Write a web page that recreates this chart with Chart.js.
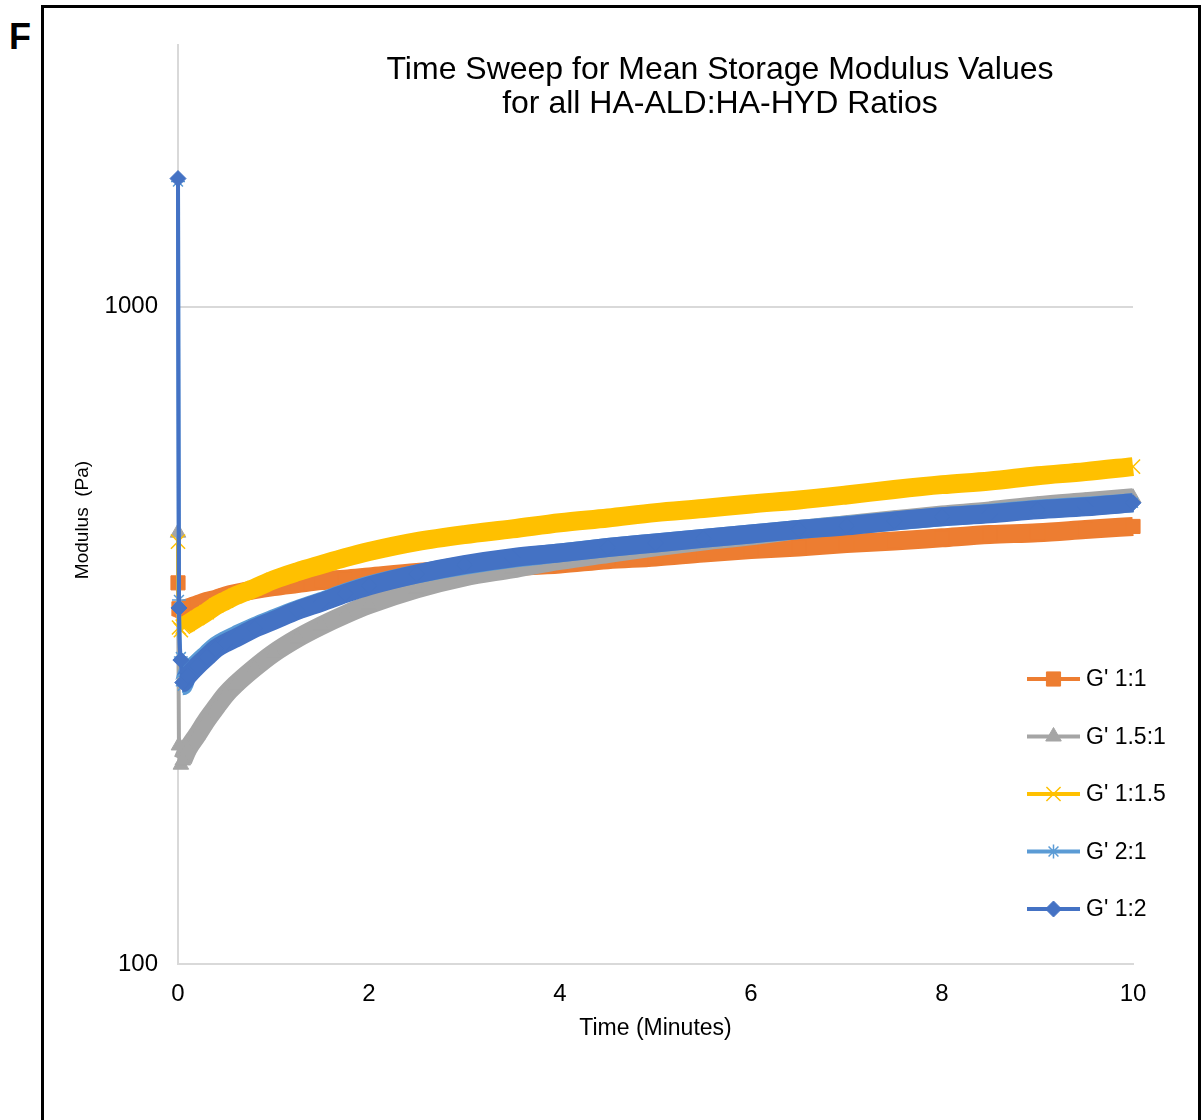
<!DOCTYPE html>
<html>
<head>
<meta charset="utf-8">
<title>Time Sweep for Mean Storage Modulus Values</title>
<script src="https://cdn.jsdelivr.net/npm/chart.js@4.4.1/dist/chart.umd.min.js"></script>
<style>
  html, body { margin: 0; padding: 0; background: #fff; overflow: hidden; }
  #wrap { position: relative; width: 1202px; height: 1120px; }
  #frame { position: absolute; left: 41px; top: 5px; width: 1154px; height: 1200px;
           border: 3px solid #000; border-bottom: none; }
  #panel { position: absolute; left: 9px; top: 19px; font: bold 36px "Liberation Sans", Arial, sans-serif;
           color: #000; line-height: 1; }
  canvas { position: absolute; left: 0; top: 0; }
</style>
</head>
<body>
<div id="wrap">
  <div id="frame"></div>
  <div id="panel">F</div>
  <canvas id="chart" width="1202" height="1120"></canvas>
</div>
<script>
// Sampling times (minutes)
const times = [0, 0.01, 0.03, 0.05, 0.1, 0.2, 0.3, 0.4, 0.5, 0.6, 0.8, 1.0, 1.25, 1.5, 1.75, 2,
               2.5, 3, 3.5, 4, 4.5, 5, 5.5, 6, 6.5, 7, 7.5, 8, 8.5, 9, 9.5, 10];

// Mean storage modulus G' (Pa) for each HA-ALD:HA-HYD ratio
const g_1_1   = [380, 347, 346, 345, 348, 352, 356, 359, 363, 366, 371, 375, 379, 383, 385, 388,
                 394, 398, 402, 406, 412, 416, 422, 427, 431, 436, 440, 445, 450, 453, 458, 463];
const g_15_1  = [453, 215, 201, 204, 212, 223, 235, 246, 257, 266, 282, 297, 313, 327, 340, 352,
                 372, 388, 399, 411, 421, 431, 440, 448, 458, 466, 474, 482, 489, 498, 505, 512];
const g_1_15  = [439, 325, 322, 326, 329, 336, 343, 351, 357, 363, 373, 384, 395, 405, 415, 424,
                 439, 450, 459, 469, 477, 486, 493, 501, 508, 517, 527, 536, 543, 553, 561, 571];
const g_2_1   = [1550, 358, 293, 265, 277, 287, 296, 305, 311, 316, 326, 335, 346, 356, 367, 377,
                 392, 404, 414, 422, 430, 437, 444, 451, 458, 465, 472, 479, 485, 492, 497, 503];
const g_1_2   = [1566, 348, 290, 268, 274, 284, 293, 302, 308, 313, 324, 333, 345, 355, 366, 376,
                 392, 405, 415, 422, 430, 437, 444, 451, 458, 464, 472, 479, 484, 491, 496, 503];

const seriesLabels = ["G' 1:1", "G' 1.5:1", "G' 1:1.5", "G' 2:1", "G' 1:2"];
const seriesValues = [g_1_1, g_15_1, g_1_15, g_2_1, g_1_2];
const xTickStep = 2;
const yTickValues = [100, 1000];

const FONT = '"Liberation Sans", Arial, Helvetica, sans-serif';
const styles = [
  { color: '#ED7D31', pointStyle: 'rect',     radius: 10, pw: 1 },
  { color: '#A5A5A5', pointStyle: 'triangle', radius: 9,  pw: 1 },
  { color: '#FFC000', pointStyle: 'crossRot', radius: 10, pw: 1.5 },
  { color: '#5B9BD5', pointStyle: 'star',     radius: 7,  pw: 1.5 },
  { color: '#4472C4', pointStyle: 'rectRot',  radius: 8,  pw: 1 }
];

const BAND = 19, THIN = 4;

const datasets = seriesLabels.map((label, i) => ({
  label,
  data: times.map((t, k) => ({ x: t, y: seriesValues[i][k] })),
  borderColor: styles[i].color,
  backgroundColor: styles[i].color,
  pointBackgroundColor: styles[i].color,
  pointBorderColor: styles[i].color,
  pointStyle: styles[i].pointStyle,
  pointRadius: styles[i].radius,
  pointBorderWidth: styles[i].pw,
  borderWidth: BAND,
  borderCapStyle: 'butt',
  borderJoinStyle: 'round',
  cubicInterpolationMode: 'monotone',
  fill: false,
  clip: false,
  // the very first readings are joined by a thin line, the sweep itself is a wide band
  segment: { borderWidth: c => (c.p0.parsed.x < 0.04 ? THIN : BAND) },
  order: seriesLabels.length - i
}));

// Two-line title and the rotated value-axis title
const titlePlugin = {
  id: 'sweepTitle',
  afterDraw(chart) {
    const ctx = chart.ctx;
    ctx.save();
    ctx.fillStyle = '#000';
    ctx.font = '32px ' + FONT;
    ctx.textAlign = 'center';
    ctx.textBaseline = 'middle';
    ctx.fillText('Time Sweep for Mean Storage Modulus Values', 720, 70);
    ctx.fillText('for all HA-ALD:HA-HYD Ratios', 720, 104);
    ctx.translate(83, 520);
    ctx.rotate(-Math.PI / 2);
    ctx.font = '19px ' + FONT;
    ctx.fillText('Modulus  (Pa)', 0, 0);
    ctx.restore();
  }
};

// Legend: line with marker, label to the right
const legendPlugin = {
  id: 'lineMarkerLegend',
  afterDraw(chart) {
    const ctx = chart.ctx;
    ctx.save();
    seriesLabels.forEach((label, i) => {
      const y = 679 + i * 57.5;
      const st = styles[i];
      ctx.strokeStyle = st.color;
      ctx.lineWidth = 4;
      ctx.lineCap = 'butt';
      ctx.beginPath();
      ctx.moveTo(1027, y);
      ctx.lineTo(1080, y);
      ctx.stroke();
      ctx.fillStyle = st.color;
      ctx.lineWidth = st.pw;
      Chart.helpers.drawPoint(ctx, { pointStyle: st.pointStyle, radius: st.radius, rotation: 0, borderWidth: st.pw }, 1053.5, y);
      ctx.fillStyle = '#000';
      ctx.font = '23px ' + FONT;
      ctx.textAlign = 'left';
      ctx.textBaseline = 'middle';
      ctx.fillText(label, 1086, y + 1);
    });
    ctx.restore();
  }
};

new Chart(document.getElementById('chart'), {
  type: 'line',
  data: { datasets },
  options: {
    responsive: false,
    animation: false,
    devicePixelRatio: 1,
    layout: { padding: { left: 70, right: 69, top: 45, bottom: 78 } },
    plugins: {
      legend: { display: false },
      tooltip: { enabled: false },
      title: { display: false }
    },
    scales: {
      x: {
        type: 'linear',
        min: 0,
        max: 10,
        ticks: { stepSize: xTickStep, color: '#000', font: { family: FONT, size: 24 }, padding: 16, maxRotation: 0 },
        grid: { display: false, drawTicks: false },
        border: { display: true, color: '#D9D9D9', width: 2 },
        title: { display: true, text: 'Time (Minutes)', color: '#000', font: { family: FONT, size: 23 }, padding: 0 },
        afterFit: s => { s.height = 78; }
      },
      y: {
        type: 'logarithmic',
        min: 100,
        max: 2500,
        afterBuildTicks: s => { s.ticks = yTickValues.map(v => ({ value: v })); },
        ticks: { color: '#000', font: { family: FONT, size: 24 }, padding: 20, callback: v => String(v) },
        grid: { color: '#D9D9D9', lineWidth: 2, drawTicks: false },
        border: { display: true, color: '#D9D9D9', width: 2 },
        title: { display: false },
        afterFit: s => { s.width = 108; }
      }
    }
  },
  plugins: [titlePlugin, legendPlugin]
});
</script>
</body>
</html>
